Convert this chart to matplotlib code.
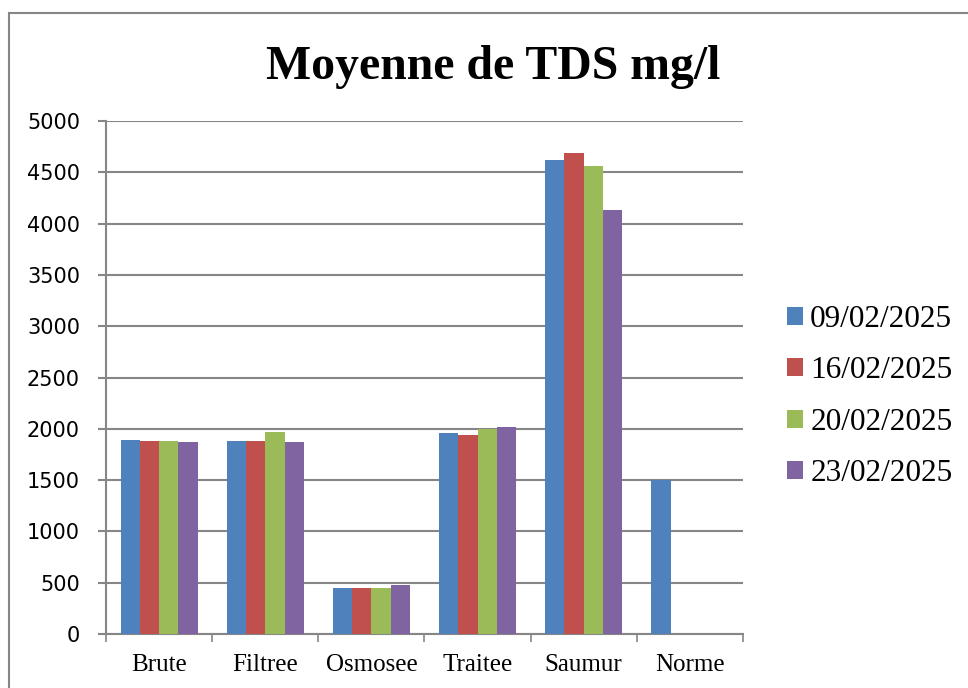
import matplotlib
matplotlib.use("Agg")
import matplotlib.pyplot as plt
import matplotlib.patches as pltpatches
import numpy as np

categories = ["Brute", "Filtree", "Osmosee", "Traitee", "Saumur", "Norme"]
dates = ["09/02/2025", "16/02/2025", "20/02/2025", "23/02/2025"]
tds_0902 = [1890, 1878, 450, 1956, 4620, 1500]
tds_1602 = [1878, 1884, 448, 1943, 4692, 0]
tds_2002 = [1884, 1969, 445, 1998, 4566, 0]
tds_2302 = [1868, 1871, 481, 2017, 4133, 0]
yticks = list(range(0, 5001, 500))

COLORS = ["#4F81BD", "#C0504D", "#9BBB59", "#8064A2"]
GREY = "#868686"
SERIF = "Liberation Serif"
SANS = "DejaVu Sans"

W, H = 968, 688
fig = plt.figure(figsize=(W / 100, H / 100), dpi=100)
ax = fig.add_axes([106 / W, 1 - 634 / H, 637 / W, 513 / H])

# outer chart border (cut by the image edge like in the original)
fig.patches.append(pltpatches.Rectangle((9 / W, -0.1), 1.2, 1 - 13 / H + 0.1,
                                        transform=fig.transFigure, fill=False,
                                        edgecolor=GREY, linewidth=1.5))

x = np.arange(len(categories))
width = 0.1816
series = [tds_0902, tds_1602, tds_2002, tds_2302]
for i, (values, label) in enumerate(zip(series, dates)):
    offset = (i - 1.5) * width
    ax.bar(x + offset, values, width, color=COLORS[i], label=label, zorder=3)

ax.set_xlim(-0.5, len(categories) - 0.5)
ax.set_ylim(0, 5000)
ax.set_yticks(yticks)
ax.set_yticklabels([str(v) for v in yticks], fontfamily=SANS, fontsize=15)
ax.yaxis.grid(True, color=GREY, linewidth=1.5, zorder=0)

ax.set_xticks(x)
ax.set_xticklabels(categories, fontfamily=SERIF, fontsize=18)
ax.set_xticks(np.arange(len(categories) + 1) - 0.5, minor=True)
ax.tick_params(axis="x", which="major", length=0, pad=14.5)
ax.tick_params(axis="x", which="minor", length=5.5, color=GREY, width=1.2)
ax.tick_params(axis="y", length=5.8, color=GREY, width=1.5, pad=13)

for side in ["top", "right"]:
    ax.spines[side].set_visible(False)
for side in ["left", "bottom"]:
    ax.spines[side].set_color(GREY)
    ax.spines[side].set_linewidth(1.5)

fig.text(493 / W, 1 - 79 / H, "Moyenne de TDS mg/l", ha="center", va="baseline",
         fontfamily=SERIF, fontweight="bold", fontsize=34.4)

leg = fig.legend(loc="center left", bbox_to_anchor=(787 / W, 1 - 396.5 / H),
                 frameon=False, prop={"family": SERIF, "size": 22.5},
                 handlelength=0.52, handleheight=0.52, handletextpad=0.22,
                 labelspacing=0.72, borderaxespad=0, borderpad=0)

fig.savefig("out.png", dpi=100)
